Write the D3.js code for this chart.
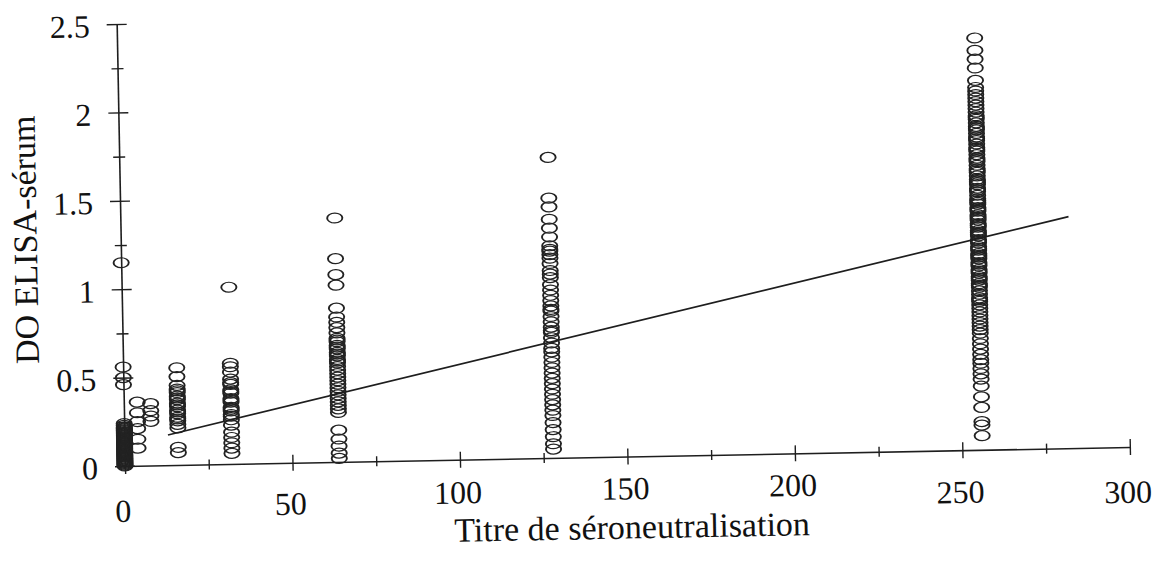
<!DOCTYPE html>
<html>
<head>
<meta charset="utf-8">
<script src="https://cdn.jsdelivr.net/npm/d3@7/dist/d3.min.js"></script>
<style>
  body { margin: 0; background: #fff; }
  svg { display: block; }
  text { font-family: "Liberation Serif", "Times New Roman", serif; fill: #111; }
</style>
</head>
<body>
<svg id="chart" width="1174" height="568"></svg>
<script>
// Neutralisation titres (x) and the ELISA optical density measured for each serum (y)
const titres = [0, 4, 8, 16, 32, 64, 128, 256];

const odTitre0 = [0.00, 0.005, 0.01, 0.015, 0.02, 0.025, 0.03, 0.035, 0.04, 0.045, 0.05,
  0.055, 0.06, 0.065, 0.07, 0.075, 0.08, 0.085, 0.09, 0.095, 0.10, 0.105, 0.11, 0.115,
  0.12, 0.125, 0.13, 0.135, 0.14, 0.145, 0.15, 0.155, 0.16, 0.165, 0.17, 0.175, 0.18,
  0.185, 0.19, 0.195, 0.20, 0.205, 0.21, 0.215, 0.22, 0.23, 0.24, 0.46, 0.50, 0.56, 1.15];
const odTitre4 = [0.36, 0.30, 0.25, 0.21, 0.15, 0.10];
const odTitre8 = [0.35, 0.31, 0.28, 0.25];
const odTitre16 = [0.55, 0.50, 0.45, 0.43, 0.42, 0.41, 0.39, 0.38, 0.37, 0.35, 0.34, 0.33,
  0.31, 0.30, 0.29, 0.27, 0.26, 0.25, 0.23, 0.21, 0.10, 0.07];
const odTitre32 = [1.00, 0.57, 0.55, 0.52, 0.48, 0.46, 0.45, 0.42, 0.41, 0.40, 0.37, 0.36,
  0.35, 0.32, 0.31, 0.30, 0.28, 0.27, 0.25, 0.22, 0.18, 0.15, 0.12, 0.09, 0.06];
const odTitre64 = [1.38, 1.15, 1.06, 1.00, 0.87, 0.82, 0.79, 0.76, 0.73, 0.70, 0.69, 0.68,
  0.66, 0.65, 0.64, 0.62, 0.61, 0.60, 0.58, 0.57, 0.56, 0.54, 0.52, 0.50, 0.48, 0.46,
  0.44, 0.42, 0.40, 0.38, 0.36, 0.34, 0.32, 0.30, 0.28, 0.18, 0.13, 0.09, 0.05, 0.02];
const odTitre128 = [1.70, 1.47, 1.42, 1.35, 1.30, 1.25, 1.20, 1.18, 1.17, 1.15, 1.13, 1.10,
  1.06, 1.04, 1.02, 0.98, 0.95, 0.92, 0.89, 0.86, 0.84, 0.83, 0.80, 0.77, 0.74, 0.72,
  0.71, 0.68, 0.65, 0.62, 0.60, 0.57, 0.54, 0.51, 0.48, 0.45, 0.42, 0.39, 0.36, 0.33,
  0.30, 0.27, 0.24, 0.20, 0.16, 0.12, 0.08, 0.05];
const odTitre256 = [2.33, 2.26, 2.21, 2.16, 2.09, 2.05, 2.03, 2.01, 1.99, 1.97, 1.95,
  1.93, 1.91, 1.89, 1.88, 1.87, 1.85, 1.83, 1.82, 1.81, 1.79, 1.77, 1.76, 1.75, 1.73,
  1.71, 1.70, 1.69, 1.67, 1.65, 1.64, 1.63, 1.61, 1.59, 1.58, 1.57, 1.55, 1.53, 1.52,
  1.51, 1.50, 1.48, 1.47, 1.46, 1.44, 1.42, 1.41, 1.40, 1.39, 1.37, 1.36, 1.35, 1.33,
  1.32, 1.31, 1.30, 1.28, 1.27, 1.26, 1.24, 1.23, 1.22, 1.21, 1.19, 1.18, 1.17, 1.15,
  1.14, 1.13, 1.11, 1.10, 1.09, 1.08, 1.06, 1.05, 1.04, 1.02, 1.01, 1.00, 0.98, 0.97,
  0.96, 0.94, 0.93, 0.92, 0.90, 0.88, 0.86, 0.85, 0.84, 0.82, 0.80, 0.78, 0.76, 0.74,
  0.72, 0.70, 0.68, 0.66, 0.63, 0.60, 0.57, 0.54, 0.51, 0.49, 0.46, 0.43, 0.40, 0.36,
  0.30, 0.24, 0.16, 0.14, 0.08];

const odByTitre = [odTitre0, odTitre4, odTitre8, odTitre16, odTitre32, odTitre64, odTitre128, odTitre256];

// Least-squares line, drawn between its two end points
const fitLine = [{ titre: 13, od: 0.171 }, { titre: 283, od: 1.31 }];

const xMajorTicks = [0, 50, 100, 150, 200, 250, 300];
const xMinorTicks = [25, 75, 125, 175, 225, 275];
const yMajorTicks = [0, 0.5, 1, 1.5, 2, 2.5];
const yMinorTicks = [0.25, 0.75, 1.25, 1.75, 2.25];
const xTitle = "Titre de séroneutralisation";
const yTitle = "DO ELISA-sérum";

const points = [];
titres.forEach((t, i) => odByTitre[i].forEach(v => points.push({ titre: t, od: v })));

const svg = d3.select("#chart");
const ink = "#1e1e1e";

const x = d3.scaleLinear().domain([0, 300]).range([0, 1005]);
const y = d3.scaleLinear().domain([0, 2.5]).range([0, -442]);

// The printed figure sits slightly askew on the page
const g = svg.append("g").attr("transform", "translate(125,466) rotate(-1.08)");

function styleAxis(sel) {
  sel.attr("font-family", null).attr("font-size", null);
  sel.selectAll("path.domain").attr("stroke", ink).attr("stroke-width", 1.6);
  sel.selectAll(".tick line").attr("stroke", ink).attr("stroke-width", 1.4);
  sel.selectAll(".tick text").style("font-size", "32px").attr("fill", "#111");
}

// x axis: major ticks with labels, minor ticks without
const xMinor = g.append("g").call(d3.axisBottom(x).tickValues(xMinorTicks).tickSize(5).tickFormat(""));
styleAxis(xMinor);
xMinor.select("path.domain").remove();
xMinor.selectAll(".tick line").attr("y1", -5);

const xMajor = g.append("g").call(d3.axisBottom(x).tickValues(xMajorTicks).tickSize(8).tickSizeOuter(0).tickPadding(25));
styleAxis(xMajor);
xMajor.selectAll(".tick line").attr("y1", -8);
// the printed labels ride a little higher towards the middle of the axis
const labelLift = { 0: 0, 50: -4, 100: -12, 150: -13, 200: -13, 250: -3, 300: 0 };
xMajor.selectAll(".tick text")
  .attr("dx", -3)
  .attr("transform", d => `translate(0,${labelLift[d] || 0})`);

// y axis
const yMinor = g.append("g").call(d3.axisLeft(y).tickValues(yMinorTicks).tickSize(6).tickFormat(""));
styleAxis(yMinor);
yMinor.select("path.domain").remove();
yMinor.selectAll(".tick line").attr("x1", 6);

const yMajor = g.append("g").call(d3.axisLeft(y).tickValues(yMajorTicks).tickSize(10).tickSizeOuter(0).tickPadding(17)
  .tickFormat(d => String(d)));
styleAxis(yMajor);
yMajor.selectAll(".tick line").attr("x1", 10);
yMajor.selectAll(".tick text").attr("dy", "0.38em");

// Open markers, drawn as upright ovals with heavier sides
g.append("g").selectAll("circle")
  .data(points)
  .join("circle")
  .attr("r", 8)
  .attr("transform", d => `translate(${x(d.titre)},${y(d.od)}) scale(0.95,0.62)`)
  .attr("fill", "none")
  .attr("stroke", "#222")
  .attr("stroke-width", 2);

// Regression line
g.append("path")
  .datum(fitLine)
  .attr("d", d3.line().x(d => x(d.titre)).y(d => y(d.od)))
  .attr("fill", "none")
  .attr("stroke", ink)
  .attr("stroke-width", 1.7);

// Axis titles
g.append("text")
  .attr("x", x(151))
  .attr("y", 82)
  .attr("text-anchor", "middle")
  .style("font-size", "34px")
  .text(xTitle);

g.append("text")
  .attr("transform", "translate(-84,-228) rotate(-90)")
  .attr("text-anchor", "middle")
  .style("font-size", "34px")
  .text(yTitle);
</script>
</body>
</html>
